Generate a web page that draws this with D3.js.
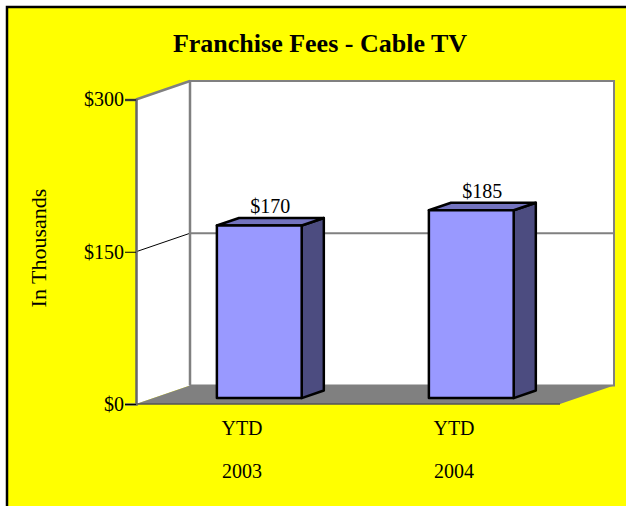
<!DOCTYPE html>
<html>
<head>
<meta charset="utf-8">
<script src="https://cdn.jsdelivr.net/npm/d3@7"></script>
<style>
  body { margin: 0; background: #fff; }
  text { font-family: "Liberation Serif", "Times New Roman", serif; }
</style>
</head>
<body>
<div id="vis"></div>
<script>
// chart values
var periods = ['YTD', 'YTD'];
var years = ['2003', '2004'];
var fees = [170, 185];
var tickValues = [0, 150, 300];

var width = 626;
var height = 506;

// front plane of the 3d box and the depth offset
var plot = { left: 136, right: 560, bottom: 404, top: 99.5 };
var depthX = 54;
var depthY = 18.5;
// bars sit between these fractions of the depth
var zFront = 0.32;
var zBack = 0.73;

var svg = d3.select('#vis').append('svg')
  .attr('width', width)
  .attr('height', height);

// yellow panel with black border (runs off the right and bottom)
svg.append('rect')
  .attr('x', 7).attr('y', 7)
  .attr('width', 640).attr('height', 520)
  .attr('fill', '#ffff00')
  .attr('stroke', '#000')
  .attr('stroke-width', 2.5);

svg.append('text')
  .attr('x', 320).attr('y', 52)
  .attr('text-anchor', 'middle')
  .style('font-size', '26px')
  .style('font-weight', 'bold')
  .text('Franchise Fees - Cable TV');

var y = d3.scaleLinear()
  .domain([0, 300])
  .range([plot.bottom, plot.top]);

var x = d3.scaleBand()
  .domain(d3.range(fees.length))
  .range([plot.left, plot.right])
  .padding(0);

var barWidth = x.bandwidth() * 0.4;

function pt(px, py, z) {
  return [px + depthX * z, py - depthY * z];
}
function poly(points) {
  return 'M' + points.map(function (p) { return p.join(','); }).join('L') + 'Z';
}

var g = svg.append('g');

// back wall
g.append('path')
  .attr('d', poly([pt(plot.left, y(300), 1), pt(plot.right, y(300), 1),
                   pt(plot.right, y(0), 1), pt(plot.left, y(0), 1)]))
  .attr('fill', '#fff')
  .attr('stroke', '#808080')
  .attr('stroke-width', 2);

// left wall
g.append('path')
  .attr('d', poly([pt(plot.left, y(300), 0), pt(plot.left, y(300), 1),
                   pt(plot.left, y(0), 1), pt(plot.left, y(0), 0)]))
  .attr('fill', '#fff')
  .attr('stroke', 'none');

// floor
g.append('path')
  .attr('d', poly([pt(plot.left, y(0), 0), pt(plot.left, y(0), 1),
                   pt(plot.right, y(0), 1), pt(plot.right, y(0), 0)]))
  .attr('fill', '#808080')
  .attr('stroke', 'none');

// gridlines on the back wall
g.selectAll('.grid')
  .data(tickValues.filter(function (d) { return d > 0 && d < 300; }))
  .enter().append('line')
  .attr('class', 'grid')
  .attr('x1', plot.left + depthX).attr('x2', plot.right + depthX)
  .attr('y1', function (d) { return y(d) - depthY; })
  .attr('y2', function (d) { return y(d) - depthY; })
  .attr('stroke', '#808080')
  .attr('stroke-width', 2);

// diagonals on the left wall
g.selectAll('.diag')
  .data(tickValues.filter(function (d) { return d > 0; }))
  .enter().append('line')
  .attr('class', 'diag')
  .attr('x1', plot.left).attr('x2', plot.left + depthX)
  .attr('y1', function (d) { return y(d); })
  .attr('y2', function (d) { return y(d) - depthY; })
  .attr('stroke', function (d) { return d === 300 ? '#808080' : '#000'; })
  .attr('stroke-width', function (d) { return d === 300 ? 2.5 : 1; });

// back vertical edge of the left wall
g.append('line')
  .attr('x1', plot.left + depthX).attr('x2', plot.left + depthX)
  .attr('y1', y(300) - depthY).attr('y2', y(0) - depthY)
  .attr('stroke', '#808080')
  .attr('stroke-width', 2.5);

// floor front edge
g.append('line')
  .attr('x1', plot.left).attr('x2', plot.right)
  .attr('y1', y(0)).attr('y2', y(0))
  .attr('stroke', '#555')
  .attr('stroke-width', 1.5);

// y axis
var yAxis = d3.axisLeft(y)
  .tickValues(tickValues)
  .tickSize(11)
  .tickPadding(1)
  .tickFormat(function (d) { return '$' + d; });

var axisG = svg.append('g')
  .attr('transform', 'translate(' + plot.left + ',0)')
  .call(yAxis);
axisG.select('.domain').attr('stroke', '#666').attr('stroke-width', 2.5);
axisG.selectAll('.tick line').attr('stroke', '#000').attr('stroke-width', 1);
axisG.selectAll('.tick text')
  .attr('fill', '#000')
  .style('font-size', '20px')
  .style('font-family', '"Liberation Serif", serif');

svg.append('text')
  .attr('transform', 'translate(46,' + 248 + ') rotate(-90)')
  .attr('text-anchor', 'middle')
  .style('font-size', '22px')
  .text('In Thousands');

// bars
var bars = svg.selectAll('.bar')
  .data(fees)
  .enter().append('g')
  .attr('class', 'bar');

function barX0(i) { return x(i) + (x.bandwidth() - barWidth) / 2; }

bars.append('path') // side
  .attr('d', function (d, i) {
    var x1 = barX0(i) + barWidth;
    return poly([pt(x1, y(d), zFront), pt(x1, y(d), zBack),
                 pt(x1, y(0), zBack), pt(x1, y(0), zFront)]);
  })
  .attr('fill', '#4c4c80');

bars.append('path') // top
  .attr('d', function (d, i) {
    var x0 = barX0(i), x1 = x0 + barWidth;
    return poly([pt(x0, y(d), zFront), pt(x0, y(d), zBack),
                 pt(x1, y(d), zBack), pt(x1, y(d), zFront)]);
  })
  .attr('fill', '#7373bf');

bars.append('path') // front
  .attr('d', function (d, i) {
    var x0 = barX0(i), x1 = x0 + barWidth;
    return poly([pt(x0, y(d), zFront), pt(x1, y(d), zFront),
                 pt(x1, y(0), zFront), pt(x0, y(0), zFront)]);
  })
  .attr('fill', '#9999ff');

bars.selectAll('path')
  .attr('stroke', '#000')
  .attr('stroke-width', 2.5)
  .attr('stroke-linejoin', 'round');

// value labels
bars.append('text')
  .attr('x', function (d, i) { return barX0(i) + barWidth / 2 + depthX * (zFront + zBack) / 2; })
  .attr('y', function (d) { return y(d) - depthY * zBack - 5; })
  .attr('text-anchor', 'middle')
  .style('font-size', '20px')
  .text(function (d) { return '$' + d; });

// category labels
var cats = svg.selectAll('.cat')
  .data(years)
  .enter().append('g')
  .attr('class', 'cat');

cats.append('text')
  .attr('x', function (d, i) { return x(i) + x.bandwidth() / 2; })
  .attr('y', 435)
  .attr('text-anchor', 'middle')
  .style('font-size', '20px')
  .text(function (d, i) { return periods[i]; });

cats.append('text')
  .attr('x', function (d, i) { return x(i) + x.bandwidth() / 2; })
  .attr('y', 478)
  .attr('text-anchor', 'middle')
  .style('font-size', '20px')
  .text(function (d) { return d; });
</script>
</body>
</html>
